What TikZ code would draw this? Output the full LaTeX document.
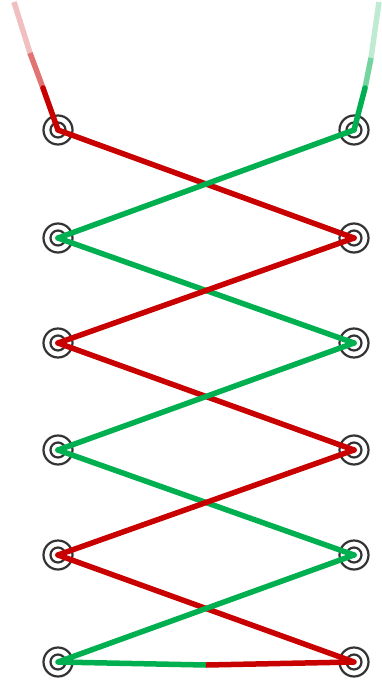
\documentclass[tikz,border=0pt]{standalone}
\definecolor{lacered}{RGB}{200,0,0}
\definecolor{lacegreen}{RGB}{0,176,80}
\tikzset{
  eyelet/.style={draw=black!80, line width=2.2pt, circle, minimum size=#1, inner sep=0pt},
  redlace/.style={draw=lacered, line width=5.5pt, line cap=round, line join=round},
  greenlace/.style={draw=lacegreen, line width=5.5pt, line cap=round, line join=round},
}
\begin{document}
\begin{tikzpicture}[x=1pt,y=-1pt]
\useasboundingbox (0,0) rectangle (382,682);
% eyelet centres
\foreach \i/\y in {1/130,2/238,3/343,4/450,5/555,6/662}{
  \coordinate (L\i) at (58,\y);
  \coordinate (R\i) at (354,\y);
  \node[eyelet=29pt] (oL\i) at (L\i) {};
  \node[eyelet=15pt] (iL\i) at (L\i) {};
  \node[eyelet=29pt] (oR\i) at (R\i) {};
  \node[eyelet=15pt] (iR\i) at (R\i) {};
}
% loose ends (fading)
\coordinate (rt0) at (14,2);
\coordinate (rt1) at (30,53);
\coordinate (rt2) at (43,88);
\coordinate (gt0) at (379,2);
\coordinate (gt1) at (371,58);
\coordinate (gt2) at (365,88);
\coordinate (B) at (206,665);
\draw[redlace, line cap=butt, opacity=0.25] (rt0) -- (rt1);
\draw[redlace, line cap=butt, opacity=0.55] (rt1) -- (rt2);
\draw[redlace] (rt2) -- (L1);
\draw[greenlace, line cap=butt, opacity=0.25] (gt0) -- (gt1);
\draw[greenlace, line cap=butt, opacity=0.55] (gt1) -- (gt2);
\draw[greenlace] (gt2) -- (R1);
% criss-cross
\draw[redlace] (L1) -- (R2);
\draw[greenlace] (R1) -- (L2);
\draw[greenlace] (L2) -- (R3);
\draw[redlace] (R2) -- (L3);
\draw[redlace] (L3) -- (R4);
\draw[greenlace] (R3) -- (L4);
\draw[greenlace] (L4) -- (R5);
\draw[redlace] (R4) -- (L5);
\draw[redlace] (L5) -- (R6);
\draw[greenlace] (R5) -- (L6);
% bottom
\draw[greenlace, line cap=butt] (L6) -- (B);
\draw[redlace, line cap=butt] (B) -- (R6);
\end{tikzpicture}
\end{document}
